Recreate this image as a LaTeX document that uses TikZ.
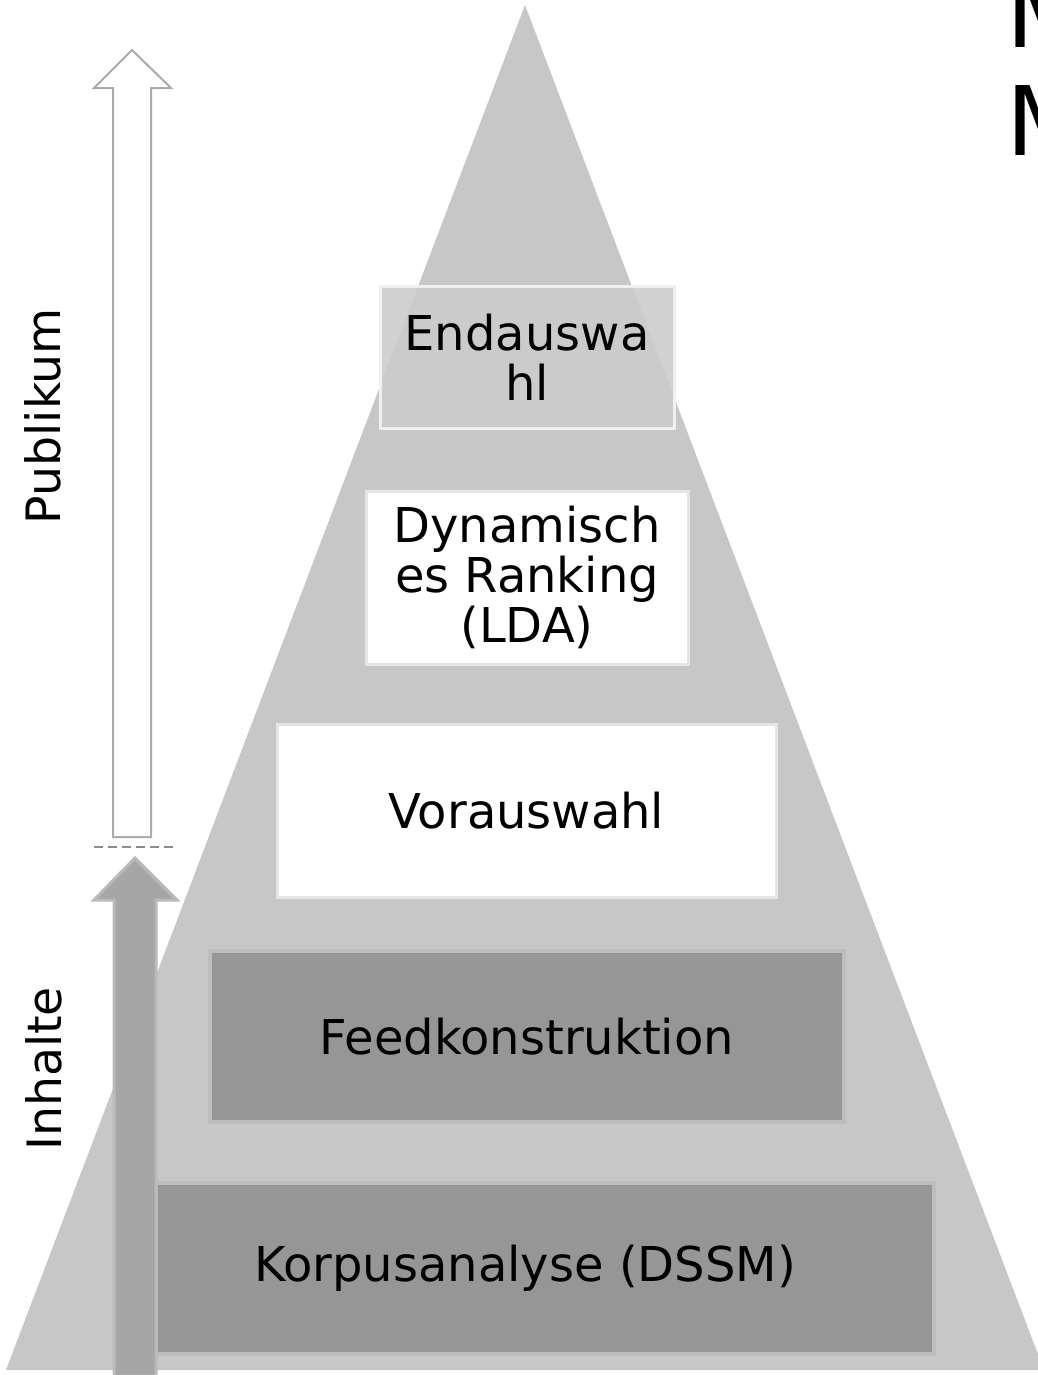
\documentclass[tikz,border=0pt]{standalone}
\usepackage{fontspec}
\setmainfont{DejaVu Sans}
\begin{document}
\begin{tikzpicture}[x=0.75pt,y=-0.75pt,
  every node/.style={inner sep=0pt, outer sep=0pt},
  stagetext/.style={font=\fontsize{36}{37.5}\selectfont, align=center, text=black},
  lightbox/.style={draw=black!10, line width=2.25pt, fill=white, stagetext},
  topbox/.style={draw=black!6, line width=2.25pt, fill=black!20, fill opacity=0.9, text opacity=1, stagetext},
  darkbox/.style={draw=black!26, line width=3pt, fill=black!41, stagetext},
  sidelabel/.style={font=\fontsize{35.5}{37.5}\selectfont, rotate=90, text=black},
  headline/.style={font=\fontsize{72}{81}\selectfont, anchor=base west, text=black}
]
\useasboundingbox (0,0) rectangle (1038,1375);
\clip (0,0) rectangle (1038,1375);

% pyramid
\fill[black!22] (525,5) -- (1044,1370) -- (6,1370) -- cycle;

% stages, from top to bottom
\node[topbox, minimum width=220.5pt, minimum height=106.5pt] (end) at (527,357) {Endauswa\\hl};
\node[lightbox, minimum width=241.5pt, minimum height=129.75pt] (dyn) at (527,577.5) {Dynamisch\\es Ranking\\(LDA)};
\node[lightbox, minimum width=374.25pt, minimum height=129.75pt] (vor) at (526.5,810.5) {Vorauswahl};
\node[darkbox, minimum width=475.5pt, minimum height=128.25pt] (feed) at (527,1036.5) {Feedkonstruktion};
\node[darkbox, minimum width=583.5pt, minimum height=128.25pt] (korpus) at (545,1268.5) {};
\node[stagetext] (korpustext) at (525,1268.5) {Korpusanalyse (DSSM)};

% audience arrow (outlined)
\draw[black!33, line width=1.5pt, fill=white, line join=miter]
  (113,837) -- (113,88) -- (94,88) -- (132,50) -- (171,88) -- (151,88) -- (151,837) -- cycle;

% separator
\draw[black!45, line width=1.8pt, dash pattern=on 6.5pt off 4pt] (94,847) -- (177,847);

% content arrow (filled)
\draw[black!27, line width=2.25pt, fill=black!35, line join=miter]
  (114,1376) -- (114,900) -- (94,900) -- (135,858) -- (177,900) -- (156,900) -- (156,1376) -- cycle;

% side labels
\node[sidelabel] (publikum) at (42.5,416) {Publikum};
\node[sidelabel] (inhalte) at (43.5,1069) {Inhalte};

% heading
\node[headline] (h1) at (1006,47) {M};
\node[headline] (h2) at (1006,155) {M};
\end{tikzpicture}
\end{document}
